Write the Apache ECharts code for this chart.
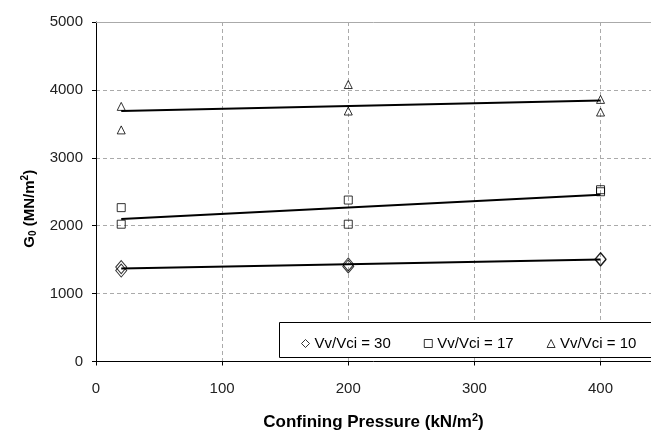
<!DOCTYPE html>
<html><head><meta charset="utf-8">
<script src="https://cdn.jsdelivr.net/npm/echarts@6/dist/echarts.min.js"></script>
<style>html,body{margin:0;padding:0;background:#fff}#c{width:651px;height:436px}</style>
</head><body><div id="c"></div>
<script>
const seriesNames = ['Vv/Vci = 30', 'Vv/Vci = 17', 'Vv/Vci = 10'];
const pressure30 = [20, 20, 200, 200, 400, 400];
const g0_30 = [1390, 1340, 1430, 1400, 1510, 1500];
const pressure17 = [20, 20, 200, 200, 400, 400];
const g0_17 = [2266, 2022, 2378, 2022, 2530, 2500];
const pressure10 = [20, 20, 200, 200, 400, 400];
const g0_10 = [3757, 3411, 4079, 3689, 3860, 3674];
const trendX = [20, 400];
const trend30 = [1370, 1501];
const trend17 = [2100, 2456];
const trend10 = [3689, 3845];
const xAxisMin = 0, xAxisMax = 440, xStep = 100;
const yAxisMin = 0, yAxisMax = 5000, yStep = 1000;

const FONT = '"Liberation Sans", Arial, sans-serif';
const pair = (xs, ys) => xs.map((x, i) => [x, ys[i]]);
const markerStyle = { color: 'rgba(255,255,255,0)', borderColor: '#000', borderWidth: 1 };

const chart = echarts.init(document.getElementById('c'), null, { renderer: 'canvas' });
chart.setOption({
  animation: false,
  backgroundColor: '#fff',
  textStyle: { fontFamily: FONT },
  grid: { left: 96, right: 0, top: 22, bottom: 72, containLabel: false },
  graphic: [{
    type: 'rect', z: 3,
    shape: { x: 279.5, y: 322.5, width: 380, height: 35 },
    style: { fill: '#fff', stroke: '#000', lineWidth: 1 }
  }],
  legend: {
    data: seriesNames,
    left: 296, top: 331,
    itemWidth: 8, itemHeight: 8, itemGap: 33,
    itemStyle: { borderWidth: 1, borderColor: '#000', color: 'rgba(255,255,255,0)' },
    textStyle: { fontFamily: FONT, fontSize: 15, color: '#000' },
    z: 5
  },
  xAxis: [{
    type: 'value', min: xAxisMin, max: xAxisMax, interval: xStep,
    name: '{t|Confining Pressure (kN/m}{p|2}{t|)}',
    nameLocation: 'middle', nameGap: 51,
    nameTextStyle: {
      rich: {
        t: { fontFamily: FONT, fontSize: 17, fontWeight: 'bold', color: '#000', lineHeight: 20 },
        p: { fontFamily: FONT, fontSize: 11, fontWeight: 'bold', color: '#000', lineHeight: 10, verticalAlign: 'top' }
      }
    },
    axisLine: { show: true, lineStyle: { color: '#000', width: 1 } },
    axisTick: { show: true, length: 4, lineStyle: { color: '#000' } },
    axisLabel: { fontFamily: FONT, fontSize: 15, color: '#222', margin: 20, showMaxLabel: false },
    splitLine: { show: true, lineStyle: { color: '#aaa', type: [4, 3], width: 1 } }
  }, {
    type: 'value', position: 'top', min: xAxisMin, max: xAxisMax,
    axisLine: { show: true, lineStyle: { color: '#aaa', width: 1 } },
    axisTick: { show: false }, axisLabel: { show: false }, splitLine: { show: false }
  }],
  yAxis: {
    type: 'value', min: yAxisMin, max: yAxisMax, interval: yStep,
    name: '{t|G}{s|0}{t| (MN/m}{p|2}{t|)}',
    nameLocation: 'middle', nameGap: 52, nameRotate: 90,
    nameTextStyle: {
      padding: [0, 34, 0, 0],
      rich: {
        t: { fontFamily: FONT, fontSize: 15, fontWeight: 'bold', color: '#000', lineHeight: 18 },
        s: { fontFamily: FONT, fontSize: 10, fontWeight: 'bold', color: '#000', lineHeight: 10, verticalAlign: 'bottom' },
        p: { fontFamily: FONT, fontSize: 10, fontWeight: 'bold', color: '#000', lineHeight: 10, verticalAlign: 'top' }
      }
    },
    axisLine: { show: true, lineStyle: { color: '#000', width: 1 } },
    axisTick: { show: true, length: 4, lineStyle: { color: '#000' } },
    axisLabel: { fontFamily: FONT, fontSize: 15, color: '#222', margin: 13, formatter: v => String(v) },
    splitLine: { show: true, lineStyle: { color: '#aaa', type: [4, 3], width: 1 } }
  },
  series: [
    { name: seriesNames[0], type: 'scatter', symbol: 'diamond', symbolSize: [11, 13], data: pair(pressure30, g0_30), itemStyle: markerStyle, z: 3 },
    { name: seriesNames[1], type: 'scatter', symbol: 'rect', symbolSize: 8, data: pair(pressure17, g0_17), itemStyle: markerStyle, z: 3 },
    { name: seriesNames[2], type: 'scatter', symbol: 'triangle', symbolSize: [8, 8], data: pair(pressure10, g0_10), itemStyle: markerStyle, z: 3 },
    { type: 'line', data: pair(trendX, trend30), symbol: 'none', lineStyle: { color: '#000', width: 2 }, z: 4 },
    { type: 'line', data: pair(trendX, trend17), symbol: 'none', lineStyle: { color: '#000', width: 2 }, z: 4 },
    { type: 'line', data: pair(trendX, trend10), symbol: 'none', lineStyle: { color: '#000', width: 2 }, z: 4 }
  ]
});
</script>
</body></html>
